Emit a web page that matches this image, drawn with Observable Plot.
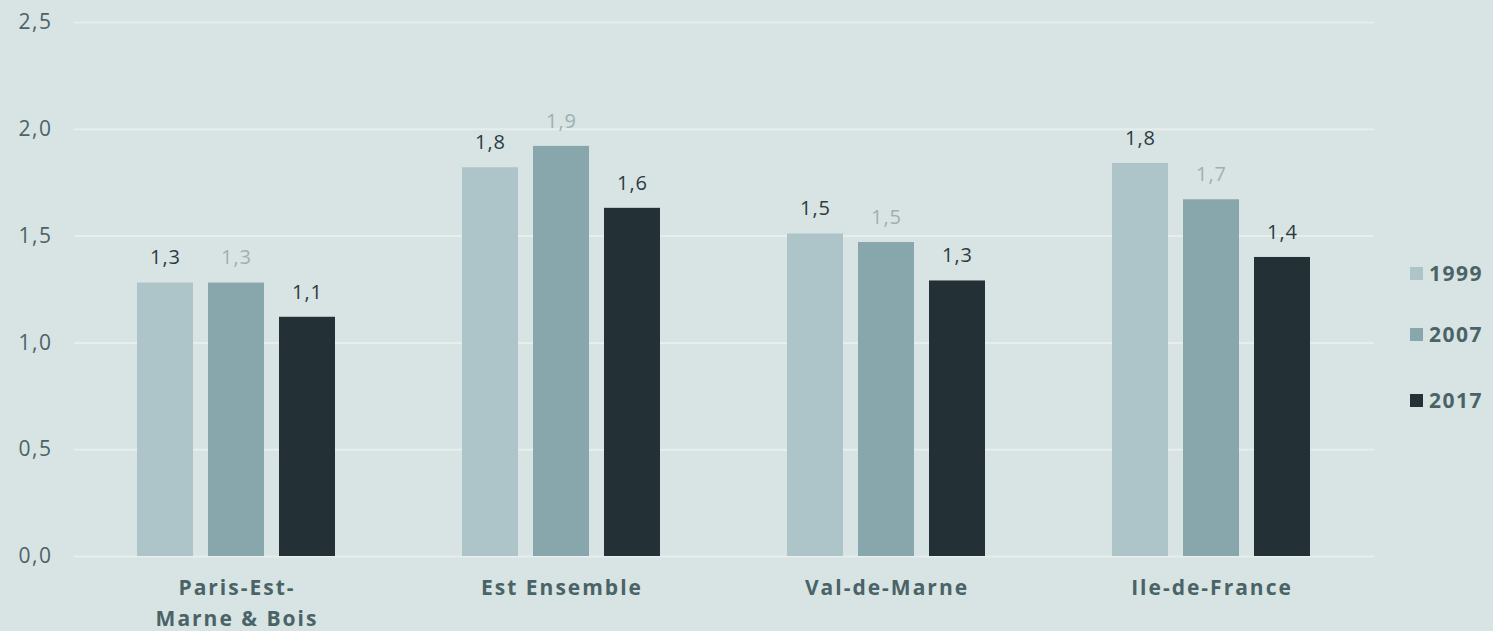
<!DOCTYPE html>
<html><head><meta charset="utf-8">
<script src="https://cdn.jsdelivr.net/npm/d3@7"></script>
<script src="https://cdn.jsdelivr.net/npm/@observablehq/plot@0.6"></script>
<style>
html,body{margin:0;padding:0;background:#d8e3e3;overflow:hidden}
#wrap{position:relative;width:1493px;height:631px;font-family:"Open Sans",sans-serif}
#legend{position:absolute;left:1410px;top:0;width:83px;height:631px}
.li{position:absolute;left:0;display:flex;align-items:center;height:24px;font-weight:bold;font-size:21px;letter-spacing:1.5px;color:#4a6367}
.sw{width:13px;height:13px;margin-right:6px}
g[aria-label="y-axis tick label"] text{letter-spacing:1.5px}
g[aria-label="fx-axis tick label"] text{letter-spacing:2px}
g[aria-label="text"] text{letter-spacing:1px}
</style></head>
<body><div id="wrap"><div id="legend"></div></div>
<script>
const territoires = ["Paris-Est-Marne & Bois", "Est Ensemble", "Val-de-Marne", "Ile-de-France"];
const territoireLabels = ["Paris-Est-\nMarne & Bois", "Est Ensemble", "Val-de-Marne", "Ile-de-France"];
const annees = ["1999", "2007", "2017"];
const v1999 = [1.28, 1.82, 1.51, 1.84];
const v2007 = [1.28, 1.92, 1.47, 1.67];
const v2017 = [1.12, 1.63, 1.29, 1.40];
const yTicks = [0, 0.5, 1.0, 1.5, 2.0, 2.5];
const couleurs = ["#adc5c8", "#87a7ac", "#233036"];

const series = {"1999": v1999, "2007": v2007, "2017": v2017};
const data = [];
territoires.forEach((t, i) => annees.forEach(a => data.push({t, annee: a, v: series[a][i]})));

const fmt = v => d3.format(".1f")(v).replace(".", ",");
const labelOf = t => territoireLabels[territoires.indexOf(t)];

const chart = Plot.plot({
  width: 1493, height: 631,
  marginLeft: 73, marginRight: 118, marginTop: 22, marginBottom: 75,
  style: {background: "transparent", fontFamily: "'Open Sans', sans-serif", color: "#4a6367", overflow: "visible"},
  fx: {domain: territoires, padding: 0, label: null},
  x: {domain: annees, paddingInner: 0.208, paddingOuter: 0.865, axis: null},
  y: {domain: [0, 2.5], label: null},
  color: {domain: annees, range: couleurs},
  marks: [
    Plot.gridY(yTicks, {stroke: "#e6eeee", strokeOpacity: 1, strokeWidth: 2}),
    Plot.barY(data, {fx: "t", x: "annee", y: "v", fill: "annee"}),
    Plot.text(data, {fx: "t", x: "annee", y: "v", text: d => fmt(d.v), dy: -25, fontSize: 20,
      fill: d => d.annee === "2007" ? "#9fb0b2" : "#2c3b3f"}),
    Plot.axisY(yTicks, {tickSize: 0, tickPadding: 22, tickFormat: fmt, fontSize: 21, fill: "#4a6367", label: null}),
    Plot.axisFx({anchor: "bottom", tickSize: 0, tickPadding: 17, tickFormat: labelOf, fontSize: 21, fontWeight: "bold", lineHeight: 1.45, fill: "#4a6367", label: null})
  ]
});
document.getElementById("wrap").prepend(chart);

const legend = document.getElementById("legend");
const tops = [261, 322, 388];
annees.forEach((a, i) => {
  const d = document.createElement("div");
  d.className = "li";
  d.style.top = tops[i] + "px";
  d.innerHTML = `<span class="sw" style="background:${couleurs[i]}"></span>${a}`;
  legend.appendChild(d);
});
</script>
</body></html>
